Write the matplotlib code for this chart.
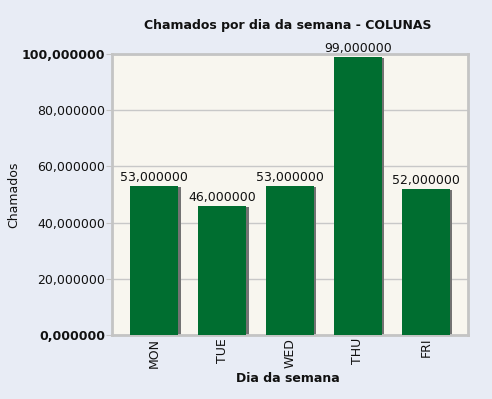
import matplotlib.pyplot as plt
import numpy as np

days = ["MON", "TUE", "WED", "THU", "FRI"]
chamados = [53.0, 46.0, 53.0, 99.0, 52.0]
yticks = [0, 20, 40, 60, 80, 100]

bg = "#E8ECF5"
plot_bg = "#F8F6EF"
bar_color = "#006E30"
frame = "#C4C4C4"

plt.rcParams['font.family'] = ['DejaVu Sans']

fig = plt.figure(figsize=(4.92, 3.99), dpi=100, facecolor=bg)
ax = fig.add_axes([112 / 492, 1 - 335 / 399, 356 / 492, 281 / 399])
ax.set_facecolor(plot_bg)

x = np.arange(len(days))

# shadow behind bars
ax.bar(x + 0.04, np.array(chamados) - 0.5, width=0.7, color="#737373", zorder=2)
ax.bar(x, chamados, width=0.7, color=bar_color, zorder=3)

for xi, v in zip(x, chamados):
    ax.text(xi, v + 0.6, f"{v:.6f}".replace(".", ","), ha="center", va="bottom",
            fontsize=9, color="#111111", zorder=4)

ax.set_xlim(-0.62, 4.62)
ax.set_ylim(0, 100)
ax.set_yticks(yticks)
ax.set_yticklabels([f"{t:.6f}".replace(".", ",") for t in yticks], fontsize=9)
for i, lbl in enumerate(ax.get_yticklabels()):
    if i in (0, len(yticks) - 1):
        lbl.set_fontweight("bold")
ax.set_xticks(x)
ax.set_xticklabels(days, rotation=90, fontsize=9)

ax.yaxis.grid(True, color="#C8C8C8", linewidth=1, zorder=1)
ax.set_axisbelow(True)
ax.tick_params(axis="y", length=4, color=frame, pad=1, labelcolor="#111111")
ax.tick_params(axis="x", length=0, pad=2, labelcolor="#111111")
for s in ax.spines.values():
    s.set_color(frame)
    s.set_linewidth(2)

fig.text(288 / 492, 1 - 378 / 399, "Dia da semana", ha="center", va="center",
         fontsize=9, fontweight="bold", color="#111111")
fig.text(14 / 492, 1 - 195 / 399, "Chamados", ha="center", va="center",
         rotation=90, fontsize=9, color="#111111")
fig.text(288 / 492, 1 - 25 / 399, "Chamados por dia da semana - COLUNAS",
         ha="center", va="center", fontsize=9, fontweight="bold", color="#111111")

fig.savefig("out.png", dpi=100, facecolor=bg)
